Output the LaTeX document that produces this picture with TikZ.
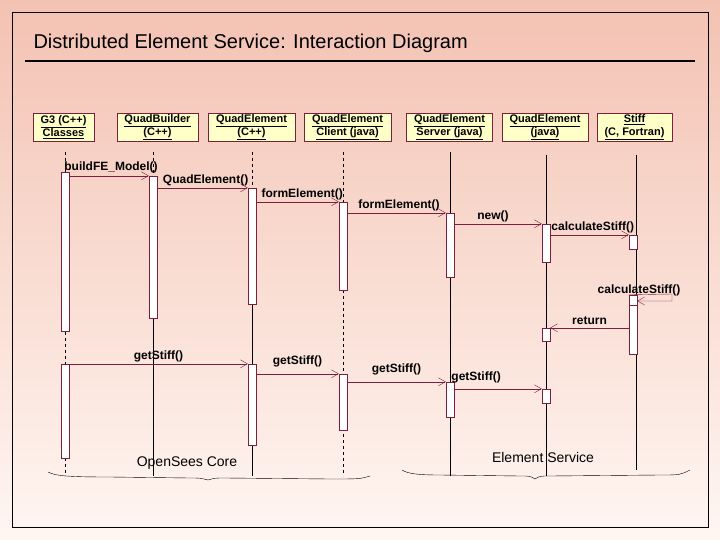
\documentclass[tikz,border=0pt]{standalone}
\usepackage{fontspec}
\setmainfont{Liberation Sans}
\usetikzlibrary{positioning}
\usetikzlibrary{calc}
\usetikzlibrary{arrows.meta}
\definecolor{maroon}{HTML}{7A1F3D}
\definecolor{boxfill}{HTML}{FFFFC8}
\definecolor{bgtop}{HTML}{F3C2B2}
\definecolor{bgbot}{HTML}{FFF6F2}
\tikzset{
  obj/.style={draw=maroon,fill=boxfill,align=center,font=\bfseries\fontsize{11}{13}\selectfont,inner sep=1pt,minimum height=28pt},
  act/.style={draw=maroon,fill=white,minimum width=8pt,inner sep=0pt},
  msg/.style={draw=maroon,-{Straight Barb[length=7pt,width=8pt]}},
  lbl/.style={font=\bfseries\fontsize{12}{12}\selectfont,inner sep=1pt},
  life/.style={draw=black,thin}
}
\begin{document}
\begin{tikzpicture}[x=1pt,y=-1pt]
\useasboundingbox (0,0) rectangle (720,540);
\shade[top color=bgtop,bottom color=bgbot] (0,0) rectangle (720,540);
\draw[black] (12,12) rectangle (708,527);
\node[anchor=west,font=\fontsize{20}{21}\selectfont] (title) at (30,43) {Distributed Element Service: Interaction Diagram};
\draw[line width=1.5pt] (25,61) -- (695,61);

% objects
\node[obj,minimum width=61pt] (g3) at (63.5,127) {\underline{G3 (C++)}\\\underline{Classes}};
\node[obj,minimum width=81pt] (builder) at (157.5,127) {\underline{QuadBuilder}\\\underline{(C++)}};
\node[obj,minimum width=87pt] (qcpp) at (251.5,127) {\underline{QuadElement}\\\underline{(C++)}};
\node[obj,minimum width=87pt] (client) at (347.5,127) {\underline{QuadElement}\\\underline{Client (java)}};
\node[obj,minimum width=86pt] (server) at (449.5,127) {\underline{QuadElement}\\\underline{Server (java)}};
\node[obj,minimum width=86pt] (qjava) at (545,127) {\underline{QuadElement}\\\underline{(java)}};
\node[obj,minimum width=75pt] (stiff) at (634.5,127) {\underline{Stiff}\\\underline{(C, Fortran)}};

% lifelines
\draw[life,dashed] (65,152) -- (65,476);
\draw[life,dashed] (153,152) -- (153,176);
\draw[life] (153,318) -- (153,476);
\draw[life,dashed] (252,152) -- (252,188);
\draw[life] (252,304) -- (252,476);
\draw[life,dashed] (343,152) -- (343,476);
\draw[life] (450,152) -- (450,476);
\draw[life] (546,155) -- (546,476);
\draw[life] (636,155) -- (636,470);

% activations
\node[act,minimum height=159pt] (a1) at (65,251.5) {};
\node[act,minimum height=142pt] (a2) at (153,247) {};
\node[act,minimum height=116pt] (a3) at (252,246) {};
\node[act,minimum height=88pt] (a4) at (343,246) {};
\node[act,minimum height=64pt] (a5) at (450,245) {};
\node[act,minimum height=38pt] (a6) at (546,243) {};
\node[act,minimum height=14pt] (a7) at (633,242) {};
\node[act,minimum height=10pt] (a8) at (633,300) {};
\node[act,minimum height=49pt] (a9) at (633,329.5) {};
\node[act,minimum height=13pt] (a10) at (546,334.5) {};
\node[act,minimum height=94pt] (b1) at (65,411) {};
\node[act,minimum height=81pt] (b3) at (252,404.5) {};
\node[act,minimum height=56pt] (b4) at (343,402) {};
\node[act,minimum height=35pt] (b5) at (450,399.5) {};
\node[act,minimum height=14pt] (b6) at (546,396) {};

% messages
\draw[msg] (a1.east |- a2.north) -- (a2.north west) node[lbl,pos=0,anchor=south west,xshift=-6pt,yshift=2pt] {buildFE\_Model()};
\draw[msg] (a2.east |- a3.north) -- (a3.north west) node[lbl,pos=0.05,anchor=south west,yshift=1pt] {QuadElement()};
\draw[msg] (a3.east |- a4.north) -- (a4.north west) node[lbl,pos=0.05,anchor=south west,yshift=1pt] {formElement()};
\draw[msg] (a4.east |- a5.north) -- (a5.north west) node[lbl,pos=0.1,anchor=south west,yshift=1pt] {formElement()};
\draw[msg] (a5.east |- a6.north) -- (a6.north west) node[lbl,pos=0.25,anchor=south west,yshift=1pt] {new()};
\draw[msg] (a6.east |- a7.north) -- (a7.north west) node[lbl,pos=0,anchor=south west,yshift=1pt] {calculateStiff()};
\coordinate (selfA) at (672,294);
\coordinate (selfB) at (672,301);
\draw[msg] (a8.north west) -- (selfA) -- (selfB) -- (a8.east |- selfB);
\node[lbl,anchor=south] (selflbl) at (639,297) {calculateStiff()};
\draw[msg] (a9.west |- a10.north) -- (a10.north east) node[lbl,midway,anchor=south,yshift=2pt] {return};
\draw[msg] (b1.north east) -- (b3.north west) node[lbl,midway,anchor=south,yshift=1pt] {getStiff()};
\draw[msg] (b3.east |- b4.north) -- (b4.north west) node[lbl,midway,anchor=south,yshift=6pt] {getStiff()};
\draw[msg] (b4.east |- b5.north) -- (b5.north west) node[lbl,midway,anchor=south,yshift=6pt] {getStiff()};
\draw[msg] (b5.east |- b6.north) -- (b6.north west) node[lbl,pos=0.25,anchor=south,yshift=5pt] {getStiff()};

% braces
\draw (48,472) .. controls (55,476) and (70,477) .. (110,477) -- (190,478) .. controls (200,478) .. (208,480) .. controls (215,478) .. (225,478) -- (330,479) .. controls (360,479) .. (370,476);
\draw (402,470) .. controls (408,474) and (420,475) .. (440,475) -- (520,476) .. controls (530,476) .. (535,479) .. controls (540,476) .. (550,476) -- (660,475) .. controls (680,475) .. (690,470);
\node[font=\fontsize{14}{15}\selectfont] (core) at (187,463) {OpenSees Core};
\node[font=\fontsize{14}{15}\selectfont] (service) at (543,457) {Element Service};
\end{tikzpicture}
\end{document}
